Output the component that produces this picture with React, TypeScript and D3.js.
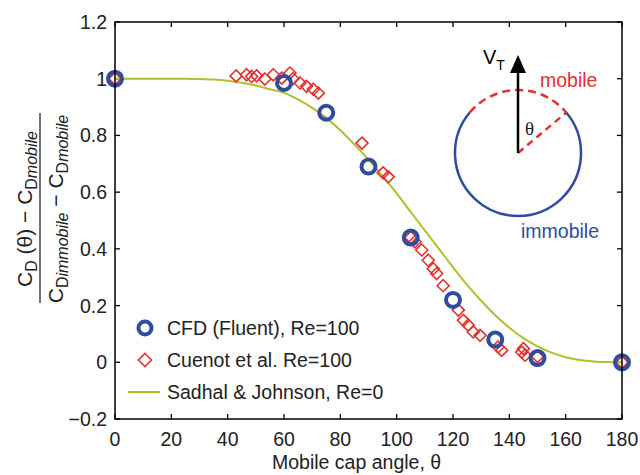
import React from "react";
import * as d3 from "d3";

const xTicks = [0, 20, 40, 60, 80, 100, 120, 140, 160, 180];
const yTicks = [-0.2, 0, 0.2, 0.4, 0.6, 0.8, 1, 1.2];
const yTickLabels = ["\u22120.2", "0", "0.2", "0.4", "0.6", "0.8", "1", "1.2"];

// CFD (Fluent), Re=100
const cfdAngle = [0, 60, 75, 90, 105, 120, 135, 150, 180];
const cfdValue = [1.0, 0.985, 0.88, 0.69, 0.44, 0.22, 0.08, 0.015, 0.0];

// Cuenot et al. Re=100
const cuenotAngle = [0, 43, 46.7, 48.5, 50.3, 53.2, 56.2, 59.2, 62.1, 63.2, 65.7, 68, 70.4, 72.2, 87.7, 95.2, 97, 105, 106.5, 108.9, 111.2, 113, 114.2, 116.5, 121.9, 123.7, 125.4, 127.2, 129.6, 136, 137.3, 144.4, 145, 145.6, 150, 180];
const cuenotValue = [1.0, 1.01, 1.014, 1.008, 1.01, 0.999, 1.014, 1.002, 1.02, 1.0, 0.985, 0.973, 0.963, 0.949, 0.773, 0.668, 0.654, 0.44, 0.425, 0.396, 0.36, 0.33, 0.313, 0.27, 0.184, 0.148, 0.131, 0.107, 0.095, 0.054, 0.042, 0.036, 0.048, 0.025, 0.02, 0.0];

// Sadhal & Johnson, Re=0
const sjAngle = [0, 5, 10, 15, 20, 25, 30, 35, 40, 45, 50, 55, 60, 65, 70, 75, 80, 85, 90, 95, 100, 105, 110, 115, 120, 125, 130, 135, 140, 145, 150, 155, 160, 165, 170, 175, 180];
const sjValue = [1, 1, 1, 1, 1, 1, 0.999, 0.997, 0.993, 0.986, 0.976, 0.963, 0.95, 0.927, 0.897, 0.862, 0.818, 0.768, 0.715, 0.656, 0.596, 0.53, 0.465, 0.4, 0.335, 0.273, 0.217, 0.166, 0.122, 0.085, 0.056, 0.034, 0.018, 0.008, 0.003, 0.001, 0];

const legendLabels = ["CFD (Fluent), Re=100", "Cuenot et al. Re=100", "Sadhal & Johnson, Re=0"];

const BLUE = "#2f4c9e";
const RED = "#e6302e";
const OLIVE = "#b3bf2c";
const FONT = "'Liberation Sans', Arial, Helvetica, sans-serif";

const left = 115, right = 622, top = 22, bottom = 419;
const x = d3.scaleLinear().domain([0, 180]).range([left, right]);
const y = d3.scaleLinear().domain([-0.2, 1.2]).range([bottom, top]);

function diamond(cx: number, cy: number, s: number) {
  return `M${cx},${cy - s}L${cx + s},${cy}L${cx},${cy + s}L${cx - s},${cy}Z`;
}

export default function App() {
  const line = d3
    .line<number>()
    .x((_, i) => x(sjAngle[i]))
    .y((d) => y(d))
    .curve(d3.curveMonotoneX);
  const sjPath = line(sjValue) || "";

  // inset
  const cx = 518, cy = 153, r = 63;
  const th = (50 * Math.PI) / 180;
  const up = -Math.PI / 2;
  const redArc = d3.path();
  redArc.arc(cx, cy, r, up - th, up + th);
  const blueArc = d3.path();
  blueArc.arc(cx, cy, r, up + th, up + 2 * Math.PI - th);

  const tickLen = 5;

  return (
    <svg width={640} height={475} style={{ position: "absolute", left: 0, top: 0, background: "#fff" }} fontFamily={FONT}>
      <rect x={0} y={0} width={640} height={475} fill="#fff" />
      {/* ticks */}
      {xTicks.map((t) => (
        <g key={"xt" + t}>
          <line x1={x(t)} x2={x(t)} y1={bottom} y2={bottom - tickLen} stroke="#000" strokeWidth={1.3} />
          <line x1={x(t)} x2={x(t)} y1={top} y2={top + tickLen} stroke="#000" strokeWidth={1.3} />
          <text x={x(t)} y={446} textAnchor="middle" fontSize={19.5} fill="#222">{t}</text>
        </g>
      ))}
      {yTicks.map((t, i) => (
        <g key={"yt" + t}>
          <line x1={left} x2={left + tickLen} y1={y(t)} y2={y(t)} stroke="#000" strokeWidth={1.3} />
          <line x1={right} x2={right - tickLen} y1={y(t)} y2={y(t)} stroke="#000" strokeWidth={1.3} />
          <text x={107} y={y(t) + 7} textAnchor="end" fontSize={19.5} fill="#222">{yTickLabels[i]}</text>
        </g>
      ))}

      {/* series */}
      <path d={sjPath} fill="none" stroke={OLIVE} strokeWidth={2} />
      {cuenotAngle.map((a, i) => (
        <path key={"cu" + i} d={diamond(x(a), y(cuenotValue[i]), 6)} fill="none" stroke={RED} strokeWidth={1.6} />
      ))}
      {cfdAngle.map((a, i) => (
        <circle key={"cf" + i} cx={x(a)} cy={y(cfdValue[i])} r={7} fill="none" stroke={BLUE} strokeWidth={4} />
      ))}

      {/* frame */}
      <rect x={left} y={top} width={right - left} height={bottom - top} fill="none" stroke="#000" strokeWidth={1.5} />

      {/* legend */}
      <circle cx={145} cy={328} r={6.5} fill="none" stroke={BLUE} strokeWidth={4} />
      <text x={167} y={335} fontSize={19.5} fill="#222">{legendLabels[0]}</text>
      <path d={diamond(145, 360, 6.5)} fill="none" stroke={RED} strokeWidth={1.6} />
      <text x={167} y={367} fontSize={19.5} fill="#222">{legendLabels[1]}</text>
      <line x1={128} x2={160} y1={392} y2={392} stroke={OLIVE} strokeWidth={2} />
      <text x={167} y={399} fontSize={19.5} fill="#222">{legendLabels[2]}</text>

      {/* inset */}
      <path d={blueArc.toString()} fill="none" stroke={BLUE} strokeWidth={2.5} />
      <path d={redArc.toString()} fill="none" stroke={RED} strokeWidth={2.5} strokeDasharray="8 5" />
      <line x1={cx} y1={cy} x2={cx + r * Math.sin(th)} y2={cy - r * Math.cos(th)} stroke={RED} strokeWidth={2.5} strokeDasharray="7 5" />
      <line x1={cx} y1={cy} x2={cx} y2={71} stroke="#000" strokeWidth={2.5} />
      <path d={`M${cx},55L${cx + 8},73L${cx - 8},73Z`} fill="#000" />
      <text x={525} y={135} fontSize={19} fontFamily="'Liberation Serif', 'Times New Roman', serif" fill="#222">θ</text>
      <text x={483} y={64} fontSize={20} fill="#000">V<tspan fontSize={14} dy={6}>T</tspan></text>
      <text x={540} y={87} fontSize={19.5} fill={RED}>mobile</text>
      <text x={521} y={238} fontSize={19.5} fill={BLUE}>immobile</text>

      {/* axis titles */}
      <text x={272} y={469} fontSize={19.5} fill="#222">Mobile cap angle, θ</text>
      <g transform="translate(32,209) rotate(-90)">
        <text textAnchor="middle" fontSize={21} fill="#222">
          C<tspan fontSize={16} dy={5}>D</tspan>
          <tspan dy={-5}> (θ) − C</tspan>
          <tspan fontSize={16} dy={5}>D</tspan>
          <tspan fontSize={16} fontStyle="italic">mobile</tspan>
        </text>
      </g>
      <line x1={40} x2={40} y1={113} y2={303} stroke="#222" strokeWidth={1.3} />
      <g transform="translate(63,209) rotate(-90)">
        <text textAnchor="middle" fontSize={21} fill="#222">
          C<tspan fontSize={16} dy={5}>D</tspan>
          <tspan fontSize={16} fontStyle="italic">immobile</tspan>
          <tspan dy={-5}> − C</tspan>
          <tspan fontSize={16} dy={5}>D</tspan>
          <tspan fontSize={16} fontStyle="italic">mobile</tspan>
        </text>
      </g>
    </svg>
  );
}
